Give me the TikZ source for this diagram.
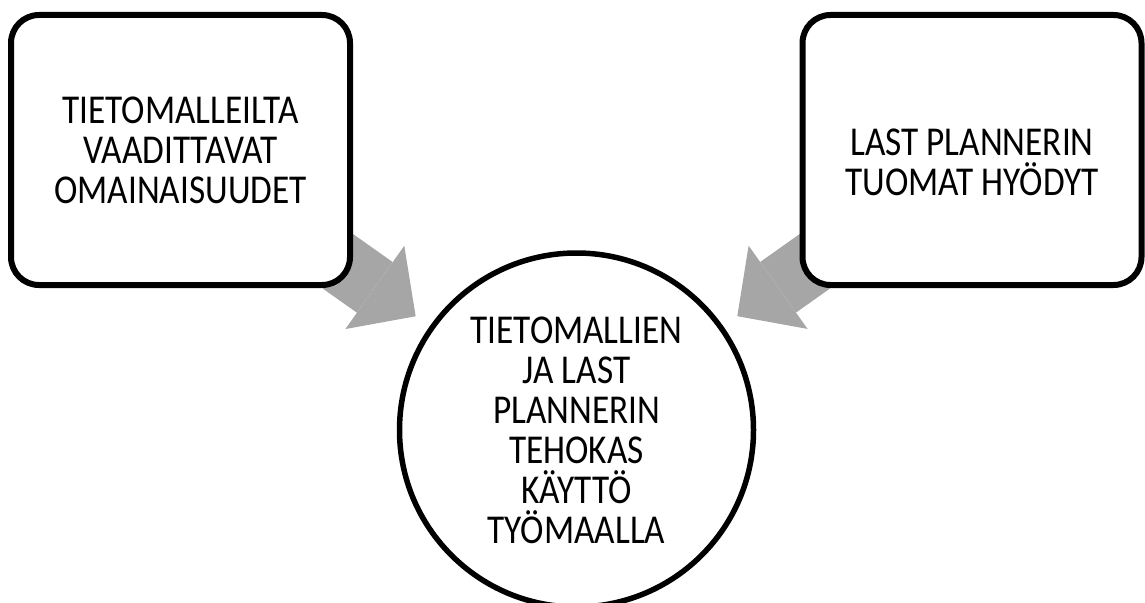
\documentclass[tikz,border=0pt]{standalone}
\usepackage{fontspec}
\setmainfont{Carlito}[FakeStretch=0.86]
\usepackage{tikz}
\usetikzlibrary{arrows.meta,positioning,calc,backgrounds}

\definecolor{arrowgray}{RGB}{166,166,166}

\begin{document}
\begin{tikzpicture}[
  x=1pt, y=-1pt,
  textfont/.style={font=\fontsize{41}{40}\selectfont},
  sidebox/.style={draw, line width=6pt, rounded corners=28pt, fill=white, align=center, textfont, minimum width=339pt, minimum height=270pt, inner sep=0pt},
  hub/.style={draw, circle, line width=5.5pt, fill=white, align=center, textfont, minimum size=354pt, inner sep=0pt},
  blockarrow/.style={draw=arrowgray, line width=62pt, -{Triangle[length=50pt, width=102pt, line width=0pt, fill=arrowgray]}, shorten >=197pt}
]
\useasboundingbox (0,0) rectangle (1145,602);
\clip (0,0) rectangle (1145,602);

\node[sidebox] (reqBox) at (180.5,150) {TIETOMALLEILTA\\VAADITTAVAT\\OMAINAISUUDET};
\node[sidebox] (benefitBox) at (972,150) {\rule{0pt}{52pt}LAST PLANNERIN\\TUOMAT HYÖDYT};
\node[hub] (useCircle) at (576.5,430) {TIETOMALLIEN\\JA LAST\\PLANNERIN\\TEHOKAS\\KÄYTTÖ\\TYÖMAALLA};

% block arrows behind the boxes
\begin{scope}[on background layer]
  \draw[blockarrow] (reqBox.center) -- (useCircle.center);
  \draw[blockarrow] (benefitBox.center) -- (useCircle.center);
\end{scope}

\end{tikzpicture}
\end{document}
